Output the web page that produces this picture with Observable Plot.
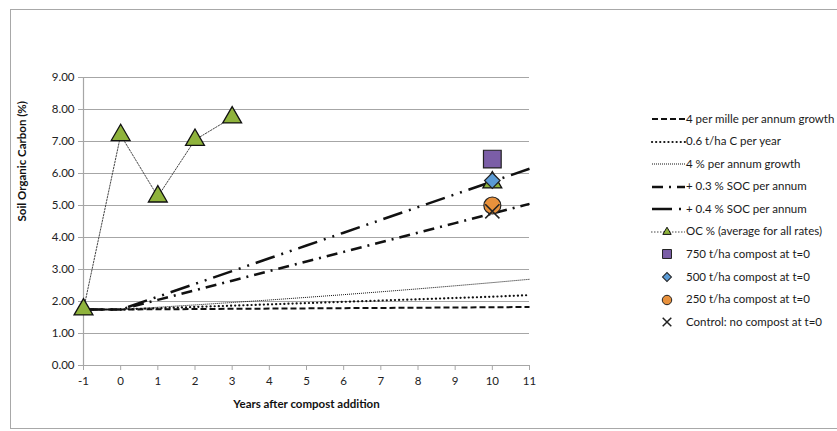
<!DOCTYPE html>
<html>
<head>
<meta charset="utf-8">
<script src="https://cdn.jsdelivr.net/npm/d3@7"></script>
<script src="https://cdn.jsdelivr.net/npm/@observablehq/plot@0.6"></script>
<style>
  html, body { margin: 0; padding: 0; background: #fff; }
  #wrap { position: relative; width: 837px; height: 431px; font-family: Lato, "Open Sans", sans-serif; }
  #frame { position: absolute; left: 10px; top: 9px; width: 840px; height: 420px; border: 1.5px solid #a8a8a8; box-sizing: border-box; }
  #legend { position: absolute; left: 0; top: 0; width: 837px; height: 431px; pointer-events: none; }
  .lrow { position: absolute; font-size: 11.5px; color: #1a1a1a; white-space: nowrap; line-height: 14px; }
</style>
</head>
<body>
<div id="wrap"><div id="frame"></div><div id="chart"></div><div id="legend"></div></div>
<script>
// ---- data ----
const years = [-1, 0, 1, 2, 3, 4, 5, 6, 7, 8, 9, 10, 11];
const perMille = [1.75, 1.75, 1.757, 1.764, 1.771, 1.778, 1.785, 1.792, 1.799, 1.806, 1.813, 1.82, 1.828];
const tonnesC = [1.75, 1.75, 1.79, 1.83, 1.87, 1.91, 1.95, 1.99, 2.03, 2.07, 2.11, 2.15, 2.2];
const pctGrowth = [1.75, 1.75, 1.82, 1.893, 1.969, 2.047, 2.129, 2.214, 2.303, 2.395, 2.491, 2.59, 2.694];
const soc03 = [1.75, 1.75, 2.05, 2.35, 2.65, 2.95, 3.25, 3.55, 3.85, 4.15, 4.45, 4.75, 5.05];
const soc04 = [1.75, 1.75, 2.15, 2.55, 2.95, 3.35, 3.75, 4.15, 4.55, 4.95, 5.35, 5.75, 6.15];
const ocYears = [-1, 0, 1, 2, 3];
const ocValues = [1.75, 7.2, 5.28, 7.05, 7.75];
const ocYear10 = 10, ocValue10 = 5.72;
const compostLabels = ["750 t/ha compost at t=0", "500 t/ha compost at t=0", "250 t/ha compost at t=0", "Control: no compost at t=0"];
const compostYears = [10, 10, 10, 10];
const compostValues = [6.45, 5.78, 5.0, 4.82];
const seriesNames = ["4 per mille per annum growth", "0.6 t/ha C per year", "4 % per annum growth", "+ 0.3 % SOC per annum", "+ 0.4 % SOC per annum"];
const ocName = "OC % (average for all rates)";
const yTicks = [0, 1, 2, 3, 4, 5, 6, 7, 8, 9];
const xTicks = [-1, 0, 1, 2, 3, 4, 5, 6, 7, 8, 9, 10, 11];
const xTitle = "Years after compost addition";
const yTitle = "Soil Organic Carbon (%)";

// ---- styles ----
const lineStyles = [
  {width: 2, dash: "6,3", cap: "butt"},
  {width: 2.2, dash: "0.1,4", cap: "round"},
  {width: 1, dash: "1,1", cap: "butt"},
  {width: 2.5, dash: "11,6,2,6", cap: "butt"},
  {width: 2.5, dash: "20,7,2,7,2,7", cap: "butt"}
];
const lineValues = [perMille, tonnesC, pctGrowth, soc03, soc04];
const compostSymbols = ["square", "diamond2", "circle", "times"];
const compostFills = ["#7b5ea7", "#5b9bd5", "#e8913c", "none"];
const compostR = [10, 7, 8.5, 6.5];

const seriesRows = lineValues.map((vals, i) => years.map((x, j) => ({x, y: vals[j]})));
const ocRows = ocYears.map((x, i) => ({x, y: ocValues[i]}));
const compostRows = compostLabels.map((name, i) => ({name, x: compostYears[i], y: compostValues[i], i}));

const marks = [
  Plot.ruleY(yTicks, {y: d => d, stroke: "#a6a6a6", strokeWidth: 1.2}),
  Plot.ruleX([-1], {stroke: "#a6a6a6", strokeWidth: 1.2}),
  Plot.axisX({ticks: xTicks, tickSize: 5, tickPadding: 6, tickFormat: d => String(d), label: null, stroke: "#a6a6a6", fontSize: 11.5, color: "#222"}),
  Plot.axisY({ticks: yTicks, tickSize: 5, tickPadding: 4, tickFormat: d3.format(".2f"), label: null, stroke: "#a6a6a6", fontSize: 11.5}),
  ...seriesRows.map((rows, i) => Plot.line(rows, {x: "x", y: "y", stroke: "#111", strokeWidth: lineStyles[i].width, strokeDasharray: lineStyles[i].dash, strokeLinecap: lineStyles[i].cap, curve: "linear"})),
  Plot.line(ocRows, {x: "x", y: "y", stroke: "#444", strokeWidth: 1, strokeDasharray: "1.5,1.5"}),
  Plot.dot([...ocRows, {x: ocYear10, y: ocValue10}], {x: "x", y: "y", symbol: "triangle", r: 7, fill: "#8fb33c", stroke: "#111", strokeWidth: 1.3}),
  ...compostRows.map(d => Plot.dot([d], {x: "x", y: "y", symbol: compostSymbols[d.i], r: compostR[d.i], fill: compostFills[d.i], stroke: "#222", strokeWidth: d.i === 3 ? 1.5 : 1.2})),
  Plot.text([yTitle], {frameAnchor: "left", dx: -61, rotate: -90, fontWeight: "bold", fontSize: 11.5, fill: "#111"}),
  Plot.text([xTitle], {frameAnchor: "bottom", dy: 42, fontWeight: "bold", fontSize: 11.5, fill: "#111"})
];

const chart = Plot.plot({
  width: 837, height: 431,
  marginLeft: 83, marginRight: 308, marginTop: 77, marginBottom: 66,
  x: {domain: [-1, 11]},
  y: {domain: [0, 9]},
  style: {fontFamily: "Lato, 'Open Sans', sans-serif", fontSize: "11.5px", color: "#222", background: "transparent"},
  marks
});
chart.style.position = "absolute";
chart.style.left = "0px";
chart.style.top = "0px";
document.getElementById("chart").appendChild(chart);

// ---- legend ----
const legend = document.getElementById("legend");
const ns = "http://www.w3.org/2000/svg";
const rowY = [119, 141.5, 164, 186.5, 209, 231.5, 254, 277, 299.5, 322];
function addRow(y, drawSwatch, text) {
  const svg = document.createElementNS(ns, "svg");
  svg.setAttribute("width", 36); svg.setAttribute("height", 20);
  svg.style.position = "absolute"; svg.style.left = "650px"; svg.style.top = (y - 10) + "px";
  drawSwatch(svg);
  legend.appendChild(svg);
  const div = document.createElement("div");
  div.className = "lrow";
  div.style.left = "686px"; div.style.top = (y - 7.5) + "px";
  div.textContent = text;
  legend.appendChild(div);
}
function el(svg, tag, attrs) {
  const e = document.createElementNS(ns, tag);
  for (const k in attrs) e.setAttribute(k, attrs[k]);
  svg.appendChild(e);
  return e;
}
seriesNames.forEach((name, i) => {
  addRow(rowY[i], svg => el(svg, "line", {x1: 2, x2: 35, y1: 10, y2: 10, stroke: "#111", "stroke-width": lineStyles[i].width, "stroke-dasharray": lineStyles[i].dash, "stroke-linecap": lineStyles[i].cap}), name);
});
addRow(rowY[5], svg => {
  el(svg, "line", {x1: 1, x2: 35, y1: 10, y2: 10, stroke: "#444", "stroke-width": 1, "stroke-dasharray": "1.5,1.5"});
  el(svg, "path", {d: d3.symbol(d3.symbolTriangle, 30)(), transform: "translate(17,10)", fill: "#8fb33c", stroke: "#111", "stroke-width": 1});
}, ocName);
const legSyms = [d3.symbolSquare, d3.symbolSquare, d3.symbolCircle, d3.symbolTimes];
compostLabels.forEach((name, i) => {
  addRow(rowY[6 + i], svg => {
    const size = [80, 40, 70, 50][i];
    el(svg, "path", {d: d3.symbol(legSyms[i], size)(), transform: `translate(17,10)${i === 1 ? " rotate(45)" : ""}`, fill: compostFills[i], stroke: "#222", "stroke-width": i === 3 ? 1.5 : 1});
  }, name);
});
</script>
</body>
</html>
